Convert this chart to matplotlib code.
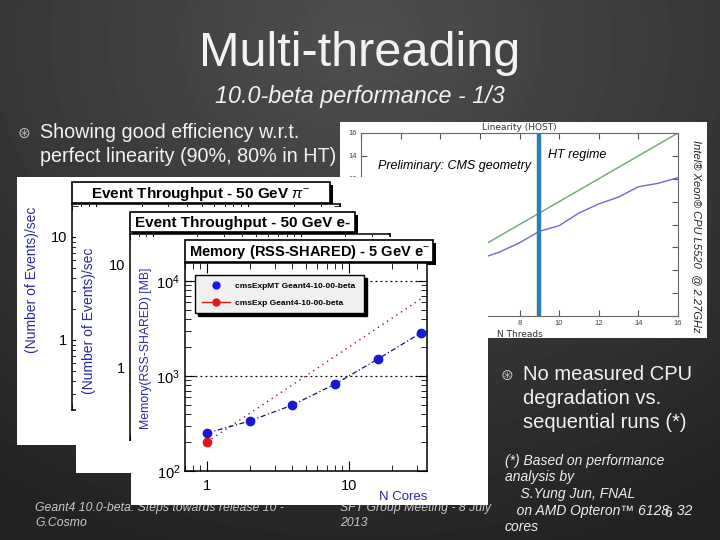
import numpy as np
import matplotlib
matplotlib.use('Agg')
import matplotlib.pyplot as plt
from matplotlib.patches import Rectangle
from matplotlib.lines import Line2D
from matplotlib.ticker import FuncFormatter, MultipleLocator

plt.rcParams['font.family'] = ['Liberation Sans', 'DejaVu Sans']
plt.rcParams['mathtext.fontset'] = 'custom'
plt.rcParams['mathtext.rm'] = 'Liberation Sans'
plt.rcParams['mathtext.it'] = 'Liberation Sans:italic'
plt.rcParams['mathtext.bf'] = 'Liberation Sans:bold'

# ---- data ----
# linearity (HOST), Intel Xeon L5520
threads = list(range(1, 17))
ideal = list(range(1, 17))
speedup = [1.0, 1.9, 2.8, 3.6, 4.4, 5.0, 5.6, 6.4, 7.4, 7.9, 9.0, 9.8, 10.4, 11.3, 11.6, 12.1]
ht_start = 9

# memory (RSS-SHARED), 5 GeV e-
cores = [1, 2, 4, 8, 16, 32]
mem_mt = [251, 336, 495, 824, 1510, 2830]
seq_cores = [1, 32]
mem_seq = [202, 6464]   # sequential, N x single job
legend_labels = ['cmsExpMT Geant4-10-00-beta', 'cmsExp Geant4-10-00-beta']

W, H = 720, 540
NARROW = ['Liberation Sans Narrow', 'Liberation Sans', 'DejaVu Sans']
LBLUE = '#2a2aa0'
plain = FuncFormatter(lambda v, p: f'{v:g}')


def box(x0, y0, x1, y1):
    # pixel box (top-left origin) -> figure fraction
    return [x0 / W, 1 - y1 / H, (x1 - x0) / W, (y1 - y0) / H]


def panel(x0, y0, x1, y1):
    a = fig.add_axes(box(x0, y0, x1, y1))
    a.set_xlim(x0, x1)
    a.set_ylim(y1, y0)
    a.axis('off')
    a.add_patch(Rectangle((x0, y0), x1 - x0, y1 - y0, fc='white', ec='none'))
    return a


def title_box(a, x0, y0, x1, y1, text, fs):
    a.add_patch(Rectangle((x0 + 3, y0 + 3), x1 - x0, y1 - y0, fc='black', ec='none'))
    a.add_patch(Rectangle((x0, y0), x1 - x0, y1 - y0, fc='white', ec='black', lw=1.2))
    a.text((x0 + x1) / 2, (y0 + y1) / 2 + 1, text, ha='center', va='center',
           fontsize=fs, fontweight='bold')


def root_axes(x0, y0, x1, y1):
    a = fig.add_axes(box(x0, y0, x1, y1))
    a.set_xscale('log')
    a.set_yscale('log')
    a.tick_params(which='both', direction='in', top=True, right=True, labelsize=10.5)
    a.tick_params(which='major', length=7)
    a.tick_params(which='minor', length=4)
    for s in a.spines.values():
        s.set_linewidth(1.1)
    return a


fig = plt.figure(figsize=(7.2, 5.4), dpi=100)

# ---- slide background ----
bg = fig.add_axes([0, 0, 1, 1])
yy, xx = np.mgrid[0:H, 0:W]
r = np.hypot((xx - 360) / 520, (yy - 40) / 430)
bg.imshow(0.31 - 0.14 * np.clip(r, 0, 1.25), cmap='gray', vmin=0, vmax=1,
          extent=(0, W, H, 0), aspect='auto')
bg.set_xlim(0, W)
bg.set_ylim(H, 0)
bg.axis('off')

bg.text(360, 54, 'Multi-threading', ha='center', va='center', fontsize=35,
        color='#f2f2f2', family=NARROW)
bg.text(360, 97, '10.0-beta performance - 1/3', ha='center', va='center', fontsize=16.8,
        color='#f2f2f2', style='italic', family=NARROW)
bg.text(24, 133, '\u229b', ha='center', va='center', fontsize=11, color='#bbbbbb',
        family='DejaVu Sans')
bg.text(40, 133, 'Showing good efficiency w.r.t.', ha='left', va='center', fontsize=14.2,
        color='#f2f2f2', family=NARROW)
bg.text(40, 156, 'perfect linearity (90%, 80% in HT)', ha='left', va='center', fontsize=14.2,
        color='#f2f2f2', family=NARROW)

bg.text(507, 375, '\u229b', ha='center', va='center', fontsize=11, color='#bbbbbb',
        family='DejaVu Sans')
for i, line in enumerate(['No measured CPU', 'degradation vs.', 'sequential runs (*)']):
    bg.text(523, 375 + 24 * i, line, ha='left', va='center', fontsize=14.5, color='#f2f2f2')
foot = ['(*) Based on performance', 'analysis by', '    S.Yung Jun, FNAL',
        '   on AMD Opteron\u2122 6128, 32', 'cores']
for i, line in enumerate(foot):
    bg.text(505, 461 + 16.5 * i, line, ha='left', va='center', fontsize=10,
            color='#eeeeee', style='italic')
bg.text(668, 513, '6', ha='center', va='center', fontsize=10, color='#dddddd')

bg.text(35, 508, 'Geant4 10.0-beta: Steps towards release 10 -', ha='left', va='center',
        fontsize=8.8, color='#c8c8c8', style='italic')
bg.text(35, 523, 'G.Cosmo', ha='left', va='center', fontsize=8.8, color='#c8c8c8',
        style='italic')
bg.text(340, 508, 'SFT Group Meeting - 8 July', ha='left', va='center', fontsize=8.8,
        color='#c8c8c8', style='italic')
bg.text(340, 523, '2013', ha='left', va='center', fontsize=8.8, color='#c8c8c8',
        style='italic')

# ---- linearity panel ----
lp = panel(340, 122, 707, 338)
lp.text(697, 236, 'Intel\u00ae Xeon\u00ae CPU L5520  @ 2.27GHz', rotation=-90, ha='center',
        va='center', fontsize=8, style='italic', color='#222222')
la = fig.add_axes(box(361, 133, 678, 316))
la.plot(threads, ideal, color='#6aaa6a', lw=1)
la.plot(threads, speedup, color='#6a6ad8', lw=1)
la.axvline(ht_start, color='#2e7db5', lw=3.2)
la.set_xlim(0, 16)
la.set_ylim(0, 16)
la.xaxis.set_major_locator(MultipleLocator(2))
la.yaxis.set_major_locator(MultipleLocator(2))
la.tick_params(direction='in', top=True, right=True, labelsize=5.5, length=4,
               colors='#555555', labelcolor='#444444', pad=3)
la.set_title('Linearity (HOST)', fontsize=6.5, pad=2, color='#333333', family='DejaVu Sans')
la.set_xlabel('N Threads', fontsize=6.5, labelpad=2, color='#333333', family='DejaVu Sans')
for s in la.spines.values():
    s.set_color('#666666')
    s.set_linewidth(0.8)
la.text(0.85, 13.1, 'Preliminary: CMS geometry', fontsize=9, style='italic', va='center')
la.text(9.45, 14.1, 'HT regime', fontsize=9, style='italic', va='center')

# ---- panel 1 : event throughput 50 GeV pi- ----
p1 = panel(17, 177, 487, 445)
title_box(p1, 72, 182, 330, 203, 'Event Throughput - 50 GeV $\\pi^{-}$', 11)
a1 = root_axes(72, 204, 340, 410)
a1.set_xlim(0.7, 40)
a1.set_ylim(10 ** -0.68, 10 ** 1.32)
a1.yaxis.set_major_formatter(plain)
a1.xaxis.set_ticklabels([])
a1.set_ylabel('(Number of Events)/sec', color=LBLUE, fontsize=10)
a1.yaxis.set_label_coords(-33 / 268, 0.63)

# ---- panel 2 : event throughput 50 GeV e- ----
p2 = panel(76, 207, 487, 473)
title_box(p2, 130, 212, 355, 232, 'Event Throughput - 50 GeV e-', 11)
a2 = root_axes(130, 234, 390, 440)
a2.set_xlim(0.7, 40)
a2.set_ylim(10 ** -0.70, 10 ** 1.30)
a2.yaxis.set_major_formatter(plain)
a2.xaxis.set_ticklabels([])
a2.set_ylabel('(Number of Events)/sec', color=LBLUE, fontsize=10)
a2.yaxis.set_label_coords(-34 / 260, 0.58)

# ---- panel 3 : memory ----
p3 = panel(131, 237, 488, 505)
title_box(p3, 185, 240, 433, 262, 'Memory (RSS-SHARED) - 5 GeV e$^{-}$', 10.5)
a3 = root_axes(185, 263, 427, 471)
a3.set_xlim(0.7, 35.5)
a3.set_ylim(100, 10 ** 4.19)
a3.xaxis.set_major_formatter(plain)
a3.yaxis.grid(True, which='major', linestyle=(0, (1.5, 2.5)), color='black', lw=0.9)
a3.plot(seq_cores, mem_seq, color='#a01818', ls=(0, (1, 3)), lw=1)
a3.plot(cores, mem_mt, color='#10106a', ls=(0, (4, 2, 1, 2)), lw=0.9)
a3.plot(cores, mem_mt, 'o', color='#1818d8', ms=6)
a3.plot(seq_cores[:1], mem_seq[:1], 'o', color='#e01818', ms=6)
a3.set_ylabel('Memory(RSS-SHARED) [MB]', color=LBLUE, fontsize=8.8)
a3.yaxis.set_label_coords(-33 / 242, 0.59)
a3.set_xlabel('N Cores', color=LBLUE, fontsize=9.5)
a3.xaxis.set_label_coords(1.0, -0.095)
a3.xaxis.label.set_ha('right')
a3.tick_params(axis='x', pad=6)

handles = [Line2D([], [], marker='o', ls='none', color='#1818d8', ms=5),
           Line2D([], [], marker='o', ls='-', lw=1, color='#e01818', ms=5)]
leg = a3.legend(handles, legend_labels, loc='upper left', mode='expand',
                bbox_to_anchor=(0.041, 0.4, 0.70, 0.542), borderaxespad=0,
                fancybox=False, shadow={'color': 'black', 'alpha': 1},
                facecolor='#f0f0f0', edgecolor='black', framealpha=1,
                prop={'size': 6, 'weight': 'bold'}, handlelength=3.4,
                handletextpad=0.6, labelspacing=1.1, borderpad=0.8)
leg.get_frame().set_linewidth(1)

fig.savefig('out.png', dpi=100)
